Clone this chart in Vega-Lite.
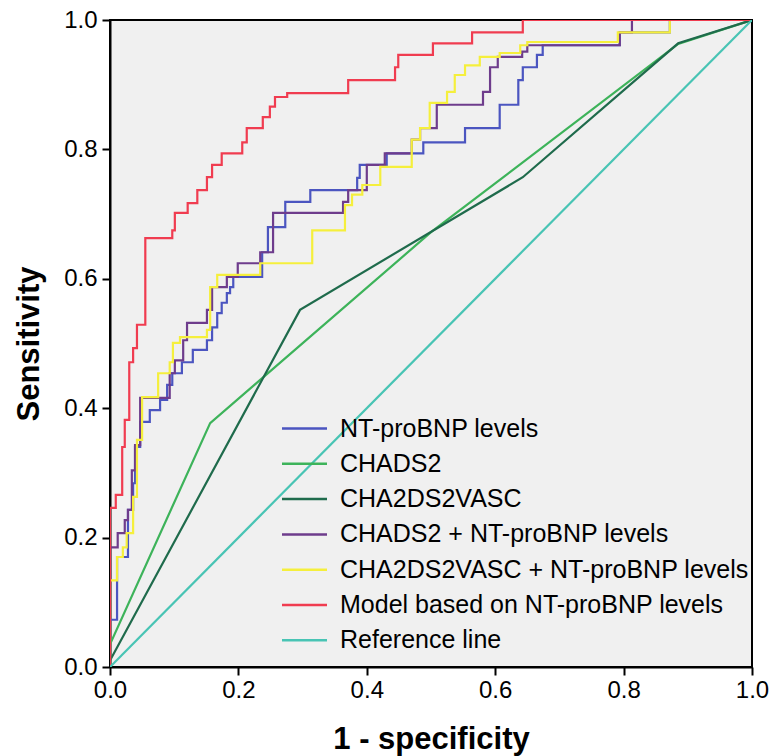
{
 "$schema": "https://vega.github.io/schema/vega-lite/v6.json",
 "width": 642, "height": 647,
 "autosize": {"type": "none"},
 "padding": {"left": 110, "top": 20, "right": 20, "bottom": 89},
 "background": "white",
 "config": {
  "font": "Liberation Sans",
  "view": {"fill": "#f0f0f0", "stroke": "#000000", "strokeWidth": 2},
  "axis": {"grid": false, "tickSize": 8, "tickWidth": 2, "tickColor": "#000000", "domainColor": "#000000", "domainWidth": 2, "labelFontSize": 24, "labelColor": "#000000", "labelFont": "Liberation Sans", "titleFont": "Liberation Sans", "titleFontSize": 31, "titleFontWeight": "bold", "titleColor": "#000000", "labelFlush": false, "labelOverlap": false}
 },
 "data": {"values": [
  {"s":"NT-proBNP levels","i":0,"x":0,"y":0},
  {"s":"NT-proBNP levels","i":1,"x":0,"y":0.073},
  {"s":"NT-proBNP levels","i":2,"x":0.011,"y":0.073},
  {"s":"NT-proBNP levels","i":3,"x":0.011,"y":0.170},
  {"s":"NT-proBNP levels","i":4,"x":0.028,"y":0.170},
  {"s":"NT-proBNP levels","i":5,"x":0.028,"y":0.243},
  {"s":"NT-proBNP levels","i":6,"x":0.036,"y":0.243},
  {"s":"NT-proBNP levels","i":7,"x":0.036,"y":0.284},
  {"s":"NT-proBNP levels","i":8,"x":0.039,"y":0.284},
  {"s":"NT-proBNP levels","i":9,"x":0.039,"y":0.340},
  {"s":"NT-proBNP levels","i":10,"x":0.047,"y":0.340},
  {"s":"NT-proBNP levels","i":11,"x":0.047,"y":0.379},
  {"s":"NT-proBNP levels","i":12,"x":0.062,"y":0.379},
  {"s":"NT-proBNP levels","i":13,"x":0.062,"y":0.397},
  {"s":"NT-proBNP levels","i":14,"x":0.078,"y":0.397},
  {"s":"NT-proBNP levels","i":15,"x":0.078,"y":0.413},
  {"s":"NT-proBNP levels","i":16,"x":0.089,"y":0.413},
  {"s":"NT-proBNP levels","i":17,"x":0.089,"y":0.436},
  {"s":"NT-proBNP levels","i":18,"x":0.097,"y":0.436},
  {"s":"NT-proBNP levels","i":19,"x":0.097,"y":0.454},
  {"s":"NT-proBNP levels","i":20,"x":0.112,"y":0.454},
  {"s":"NT-proBNP levels","i":21,"x":0.112,"y":0.471},
  {"s":"NT-proBNP levels","i":22,"x":0.129,"y":0.471},
  {"s":"NT-proBNP levels","i":23,"x":0.129,"y":0.490},
  {"s":"NT-proBNP levels","i":24,"x":0.151,"y":0.490},
  {"s":"NT-proBNP levels","i":25,"x":0.151,"y":0.505},
  {"s":"NT-proBNP levels","i":26,"x":0.159,"y":0.505},
  {"s":"NT-proBNP levels","i":27,"x":0.159,"y":0.525},
  {"s":"NT-proBNP levels","i":28,"x":0.167,"y":0.525},
  {"s":"NT-proBNP levels","i":29,"x":0.167,"y":0.547},
  {"s":"NT-proBNP levels","i":30,"x":0.174,"y":0.547},
  {"s":"NT-proBNP levels","i":31,"x":0.174,"y":0.563},
  {"s":"NT-proBNP levels","i":32,"x":0.182,"y":0.563},
  {"s":"NT-proBNP levels","i":33,"x":0.182,"y":0.578},
  {"s":"NT-proBNP levels","i":34,"x":0.187,"y":0.578},
  {"s":"NT-proBNP levels","i":35,"x":0.187,"y":0.587},
  {"s":"NT-proBNP levels","i":36,"x":0.192,"y":0.587},
  {"s":"NT-proBNP levels","i":37,"x":0.192,"y":0.603},
  {"s":"NT-proBNP levels","i":38,"x":0.237,"y":0.603},
  {"s":"NT-proBNP levels","i":39,"x":0.237,"y":0.641},
  {"s":"NT-proBNP levels","i":40,"x":0.246,"y":0.641},
  {"s":"NT-proBNP levels","i":41,"x":0.246,"y":0.680},
  {"s":"NT-proBNP levels","i":42,"x":0.273,"y":0.680},
  {"s":"NT-proBNP levels","i":43,"x":0.273,"y":0.719},
  {"s":"NT-proBNP levels","i":44,"x":0.312,"y":0.719},
  {"s":"NT-proBNP levels","i":45,"x":0.312,"y":0.737},
  {"s":"NT-proBNP levels","i":46,"x":0.385,"y":0.737},
  {"s":"NT-proBNP levels","i":47,"x":0.385,"y":0.756},
  {"s":"NT-proBNP levels","i":48,"x":0.389,"y":0.756},
  {"s":"NT-proBNP levels","i":49,"x":0.389,"y":0.776},
  {"s":"NT-proBNP levels","i":50,"x":0.431,"y":0.776},
  {"s":"NT-proBNP levels","i":51,"x":0.431,"y":0.794},
  {"s":"NT-proBNP levels","i":52,"x":0.488,"y":0.794},
  {"s":"NT-proBNP levels","i":53,"x":0.488,"y":0.811},
  {"s":"NT-proBNP levels","i":54,"x":0.553,"y":0.811},
  {"s":"NT-proBNP levels","i":55,"x":0.553,"y":0.833},
  {"s":"NT-proBNP levels","i":56,"x":0.607,"y":0.833},
  {"s":"NT-proBNP levels","i":57,"x":0.607,"y":0.869},
  {"s":"NT-proBNP levels","i":58,"x":0.636,"y":0.869},
  {"s":"NT-proBNP levels","i":59,"x":0.636,"y":0.907},
  {"s":"NT-proBNP levels","i":60,"x":0.643,"y":0.907},
  {"s":"NT-proBNP levels","i":61,"x":0.643,"y":0.927},
  {"s":"NT-proBNP levels","i":62,"x":0.665,"y":0.927},
  {"s":"NT-proBNP levels","i":63,"x":0.665,"y":0.946},
  {"s":"NT-proBNP levels","i":64,"x":0.674,"y":0.946},
  {"s":"NT-proBNP levels","i":65,"x":0.674,"y":0.961},
  {"s":"NT-proBNP levels","i":66,"x":0.794,"y":0.961},
  {"s":"NT-proBNP levels","i":67,"x":0.794,"y":0.981},
  {"s":"NT-proBNP levels","i":68,"x":0.872,"y":0.981},
  {"s":"NT-proBNP levels","i":69,"x":0.872,"y":1},
  {"s":"NT-proBNP levels","i":70,"x":1,"y":1},

  {"s":"CHADS2","i":0,"x":0,"y":0},
  {"s":"CHADS2","i":1,"x":0,"y":0.035},
  {"s":"CHADS2","i":2,"x":0.156,"y":0.377},
  {"s":"CHADS2","i":3,"x":0.50,"y":0.672},
  {"s":"CHADS2","i":4,"x":0.885,"y":0.963},
  {"s":"CHADS2","i":5,"x":1,"y":1},

  {"s":"CHA2DS2VASC","i":0,"x":0,"y":0},
  {"s":"CHA2DS2VASC","i":1,"x":0,"y":0.01},
  {"s":"CHA2DS2VASC","i":2,"x":0.296,"y":0.552},
  {"s":"CHA2DS2VASC","i":3,"x":0.643,"y":0.757},
  {"s":"CHA2DS2VASC","i":4,"x":0.885,"y":0.964},
  {"s":"CHA2DS2VASC","i":5,"x":1,"y":1},

  {"s":"CHADS2 + NT-proBNP levels","i":0,"x":0,"y":0},
  {"s":"CHADS2 + NT-proBNP levels","i":1,"x":0,"y":0.185},
  {"s":"CHADS2 + NT-proBNP levels","i":2,"x":0.012,"y":0.185},
  {"s":"CHADS2 + NT-proBNP levels","i":3,"x":0.012,"y":0.207},
  {"s":"CHADS2 + NT-proBNP levels","i":4,"x":0.023,"y":0.207},
  {"s":"CHADS2 + NT-proBNP levels","i":5,"x":0.023,"y":0.227},
  {"s":"CHADS2 + NT-proBNP levels","i":6,"x":0.028,"y":0.227},
  {"s":"CHADS2 + NT-proBNP levels","i":7,"x":0.028,"y":0.243},
  {"s":"CHADS2 + NT-proBNP levels","i":8,"x":0.034,"y":0.243},
  {"s":"CHADS2 + NT-proBNP levels","i":9,"x":0.034,"y":0.304},
  {"s":"CHADS2 + NT-proBNP levels","i":10,"x":0.039,"y":0.304},
  {"s":"CHADS2 + NT-proBNP levels","i":11,"x":0.039,"y":0.343},
  {"s":"CHADS2 + NT-proBNP levels","i":12,"x":0.047,"y":0.343},
  {"s":"CHADS2 + NT-proBNP levels","i":13,"x":0.047,"y":0.416},
  {"s":"CHADS2 + NT-proBNP levels","i":14,"x":0.093,"y":0.416},
  {"s":"CHADS2 + NT-proBNP levels","i":15,"x":0.093,"y":0.454},
  {"s":"CHADS2 + NT-proBNP levels","i":16,"x":0.101,"y":0.454},
  {"s":"CHADS2 + NT-proBNP levels","i":17,"x":0.101,"y":0.474},
  {"s":"CHADS2 + NT-proBNP levels","i":18,"x":0.114,"y":0.474},
  {"s":"CHADS2 + NT-proBNP levels","i":19,"x":0.114,"y":0.505},
  {"s":"CHADS2 + NT-proBNP levels","i":20,"x":0.120,"y":0.505},
  {"s":"CHADS2 + NT-proBNP levels","i":21,"x":0.120,"y":0.532},
  {"s":"CHADS2 + NT-proBNP levels","i":22,"x":0.151,"y":0.532},
  {"s":"CHADS2 + NT-proBNP levels","i":23,"x":0.151,"y":0.552},
  {"s":"CHADS2 + NT-proBNP levels","i":24,"x":0.159,"y":0.552},
  {"s":"CHADS2 + NT-proBNP levels","i":25,"x":0.159,"y":0.587},
  {"s":"CHADS2 + NT-proBNP levels","i":26,"x":0.182,"y":0.587},
  {"s":"CHADS2 + NT-proBNP levels","i":27,"x":0.182,"y":0.603},
  {"s":"CHADS2 + NT-proBNP levels","i":28,"x":0.199,"y":0.603},
  {"s":"CHADS2 + NT-proBNP levels","i":29,"x":0.199,"y":0.624},
  {"s":"CHADS2 + NT-proBNP levels","i":30,"x":0.234,"y":0.624},
  {"s":"CHADS2 + NT-proBNP levels","i":31,"x":0.234,"y":0.641},
  {"s":"CHADS2 + NT-proBNP levels","i":32,"x":0.254,"y":0.641},
  {"s":"CHADS2 + NT-proBNP levels","i":33,"x":0.254,"y":0.702},
  {"s":"CHADS2 + NT-proBNP levels","i":34,"x":0.363,"y":0.702},
  {"s":"CHADS2 + NT-proBNP levels","i":35,"x":0.363,"y":0.719},
  {"s":"CHADS2 + NT-proBNP levels","i":36,"x":0.371,"y":0.719},
  {"s":"CHADS2 + NT-proBNP levels","i":37,"x":0.371,"y":0.737},
  {"s":"CHADS2 + NT-proBNP levels","i":38,"x":0.400,"y":0.737},
  {"s":"CHADS2 + NT-proBNP levels","i":39,"x":0.400,"y":0.776},
  {"s":"CHADS2 + NT-proBNP levels","i":40,"x":0.428,"y":0.776},
  {"s":"CHADS2 + NT-proBNP levels","i":41,"x":0.428,"y":0.794},
  {"s":"CHADS2 + NT-proBNP levels","i":42,"x":0.470,"y":0.794},
  {"s":"CHADS2 + NT-proBNP levels","i":43,"x":0.470,"y":0.815},
  {"s":"CHADS2 + NT-proBNP levels","i":44,"x":0.483,"y":0.815},
  {"s":"CHADS2 + NT-proBNP levels","i":45,"x":0.483,"y":0.833},
  {"s":"CHADS2 + NT-proBNP levels","i":46,"x":0.509,"y":0.833},
  {"s":"CHADS2 + NT-proBNP levels","i":47,"x":0.509,"y":0.869},
  {"s":"CHADS2 + NT-proBNP levels","i":48,"x":0.581,"y":0.869},
  {"s":"CHADS2 + NT-proBNP levels","i":49,"x":0.581,"y":0.889},
  {"s":"CHADS2 + NT-proBNP levels","i":50,"x":0.592,"y":0.889},
  {"s":"CHADS2 + NT-proBNP levels","i":51,"x":0.592,"y":0.927},
  {"s":"CHADS2 + NT-proBNP levels","i":52,"x":0.604,"y":0.927},
  {"s":"CHADS2 + NT-proBNP levels","i":53,"x":0.604,"y":0.943},
  {"s":"CHADS2 + NT-proBNP levels","i":54,"x":0.642,"y":0.943},
  {"s":"CHADS2 + NT-proBNP levels","i":55,"x":0.642,"y":0.951},
  {"s":"CHADS2 + NT-proBNP levels","i":56,"x":0.650,"y":0.951},
  {"s":"CHADS2 + NT-proBNP levels","i":57,"x":0.650,"y":0.961},
  {"s":"CHADS2 + NT-proBNP levels","i":58,"x":0.794,"y":0.961},
  {"s":"CHADS2 + NT-proBNP levels","i":59,"x":0.794,"y":0.981},
  {"s":"CHADS2 + NT-proBNP levels","i":60,"x":0.813,"y":0.981},
  {"s":"CHADS2 + NT-proBNP levels","i":61,"x":0.813,"y":1},
  {"s":"CHADS2 + NT-proBNP levels","i":62,"x":1,"y":1},

  {"s":"CHA2DS2VASC + NT-proBNP levels","i":0,"x":0,"y":0},
  {"s":"CHA2DS2VASC + NT-proBNP levels","i":1,"x":0,"y":0.134},
  {"s":"CHA2DS2VASC + NT-proBNP levels","i":2,"x":0.011,"y":0.134},
  {"s":"CHA2DS2VASC + NT-proBNP levels","i":3,"x":0.011,"y":0.170},
  {"s":"CHA2DS2VASC + NT-proBNP levels","i":4,"x":0.020,"y":0.170},
  {"s":"CHA2DS2VASC + NT-proBNP levels","i":5,"x":0.020,"y":0.185},
  {"s":"CHA2DS2VASC + NT-proBNP levels","i":6,"x":0.026,"y":0.185},
  {"s":"CHA2DS2VASC + NT-proBNP levels","i":7,"x":0.026,"y":0.207},
  {"s":"CHA2DS2VASC + NT-proBNP levels","i":8,"x":0.036,"y":0.207},
  {"s":"CHA2DS2VASC + NT-proBNP levels","i":9,"x":0.036,"y":0.263},
  {"s":"CHA2DS2VASC + NT-proBNP levels","i":10,"x":0.042,"y":0.263},
  {"s":"CHA2DS2VASC + NT-proBNP levels","i":11,"x":0.042,"y":0.351},
  {"s":"CHA2DS2VASC + NT-proBNP levels","i":12,"x":0.050,"y":0.351},
  {"s":"CHA2DS2VASC + NT-proBNP levels","i":13,"x":0.050,"y":0.417},
  {"s":"CHA2DS2VASC + NT-proBNP levels","i":14,"x":0.075,"y":0.417},
  {"s":"CHA2DS2VASC + NT-proBNP levels","i":15,"x":0.075,"y":0.454},
  {"s":"CHA2DS2VASC + NT-proBNP levels","i":16,"x":0.093,"y":0.454},
  {"s":"CHA2DS2VASC + NT-proBNP levels","i":17,"x":0.093,"y":0.471},
  {"s":"CHA2DS2VASC + NT-proBNP levels","i":18,"x":0.098,"y":0.471},
  {"s":"CHA2DS2VASC + NT-proBNP levels","i":19,"x":0.098,"y":0.501},
  {"s":"CHA2DS2VASC + NT-proBNP levels","i":20,"x":0.109,"y":0.501},
  {"s":"CHA2DS2VASC + NT-proBNP levels","i":21,"x":0.109,"y":0.510},
  {"s":"CHA2DS2VASC + NT-proBNP levels","i":22,"x":0.151,"y":0.510},
  {"s":"CHA2DS2VASC + NT-proBNP levels","i":23,"x":0.151,"y":0.521},
  {"s":"CHA2DS2VASC + NT-proBNP levels","i":24,"x":0.156,"y":0.521},
  {"s":"CHA2DS2VASC + NT-proBNP levels","i":25,"x":0.156,"y":0.587},
  {"s":"CHA2DS2VASC + NT-proBNP levels","i":26,"x":0.167,"y":0.587},
  {"s":"CHA2DS2VASC + NT-proBNP levels","i":27,"x":0.167,"y":0.606},
  {"s":"CHA2DS2VASC + NT-proBNP levels","i":28,"x":0.234,"y":0.606},
  {"s":"CHA2DS2VASC + NT-proBNP levels","i":29,"x":0.234,"y":0.624},
  {"s":"CHA2DS2VASC + NT-proBNP levels","i":30,"x":0.315,"y":0.624},
  {"s":"CHA2DS2VASC + NT-proBNP levels","i":31,"x":0.315,"y":0.675},
  {"s":"CHA2DS2VASC + NT-proBNP levels","i":32,"x":0.366,"y":0.675},
  {"s":"CHA2DS2VASC + NT-proBNP levels","i":33,"x":0.366,"y":0.714},
  {"s":"CHA2DS2VASC + NT-proBNP levels","i":34,"x":0.377,"y":0.714},
  {"s":"CHA2DS2VASC + NT-proBNP levels","i":35,"x":0.377,"y":0.730},
  {"s":"CHA2DS2VASC + NT-proBNP levels","i":36,"x":0.393,"y":0.730},
  {"s":"CHA2DS2VASC + NT-proBNP levels","i":37,"x":0.393,"y":0.745},
  {"s":"CHA2DS2VASC + NT-proBNP levels","i":38,"x":0.421,"y":0.745},
  {"s":"CHA2DS2VASC + NT-proBNP levels","i":39,"x":0.421,"y":0.773},
  {"s":"CHA2DS2VASC + NT-proBNP levels","i":40,"x":0.470,"y":0.773},
  {"s":"CHA2DS2VASC + NT-proBNP levels","i":41,"x":0.470,"y":0.815},
  {"s":"CHA2DS2VASC + NT-proBNP levels","i":42,"x":0.483,"y":0.815},
  {"s":"CHA2DS2VASC + NT-proBNP levels","i":43,"x":0.483,"y":0.833},
  {"s":"CHA2DS2VASC + NT-proBNP levels","i":44,"x":0.498,"y":0.833},
  {"s":"CHA2DS2VASC + NT-proBNP levels","i":45,"x":0.498,"y":0.872},
  {"s":"CHA2DS2VASC + NT-proBNP levels","i":46,"x":0.525,"y":0.872},
  {"s":"CHA2DS2VASC + NT-proBNP levels","i":47,"x":0.525,"y":0.889},
  {"s":"CHA2DS2VASC + NT-proBNP levels","i":48,"x":0.537,"y":0.889},
  {"s":"CHA2DS2VASC + NT-proBNP levels","i":49,"x":0.537,"y":0.915},
  {"s":"CHA2DS2VASC + NT-proBNP levels","i":50,"x":0.553,"y":0.915},
  {"s":"CHA2DS2VASC + NT-proBNP levels","i":51,"x":0.553,"y":0.930},
  {"s":"CHA2DS2VASC + NT-proBNP levels","i":52,"x":0.576,"y":0.930},
  {"s":"CHA2DS2VASC + NT-proBNP levels","i":53,"x":0.576,"y":0.943},
  {"s":"CHA2DS2VASC + NT-proBNP levels","i":54,"x":0.607,"y":0.943},
  {"s":"CHA2DS2VASC + NT-proBNP levels","i":55,"x":0.607,"y":0.949},
  {"s":"CHA2DS2VASC + NT-proBNP levels","i":56,"x":0.639,"y":0.949},
  {"s":"CHA2DS2VASC + NT-proBNP levels","i":57,"x":0.639,"y":0.961},
  {"s":"CHA2DS2VASC + NT-proBNP levels","i":58,"x":0.650,"y":0.961},
  {"s":"CHA2DS2VASC + NT-proBNP levels","i":59,"x":0.650,"y":0.966},
  {"s":"CHA2DS2VASC + NT-proBNP levels","i":60,"x":0.791,"y":0.966},
  {"s":"CHA2DS2VASC + NT-proBNP levels","i":61,"x":0.791,"y":0.981},
  {"s":"CHA2DS2VASC + NT-proBNP levels","i":62,"x":0.872,"y":0.981},
  {"s":"CHA2DS2VASC + NT-proBNP levels","i":63,"x":0.872,"y":1},
  {"s":"CHA2DS2VASC + NT-proBNP levels","i":64,"x":1,"y":1},

  {"s":"Model based on NT-proBNP levels","i":0,"x":0,"y":0},
  {"s":"Model based on NT-proBNP levels","i":1,"x":0,"y":0.246},
  {"s":"Model based on NT-proBNP levels","i":2,"x":0.009,"y":0.246},
  {"s":"Model based on NT-proBNP levels","i":3,"x":0.009,"y":0.266},
  {"s":"Model based on NT-proBNP levels","i":4,"x":0.019,"y":0.266},
  {"s":"Model based on NT-proBNP levels","i":5,"x":0.019,"y":0.340},
  {"s":"Model based on NT-proBNP levels","i":6,"x":0.023,"y":0.340},
  {"s":"Model based on NT-proBNP levels","i":7,"x":0.023,"y":0.382},
  {"s":"Model based on NT-proBNP levels","i":8,"x":0.030,"y":0.382},
  {"s":"Model based on NT-proBNP levels","i":9,"x":0.030,"y":0.471},
  {"s":"Model based on NT-proBNP levels","i":10,"x":0.036,"y":0.471},
  {"s":"Model based on NT-proBNP levels","i":11,"x":0.036,"y":0.493},
  {"s":"Model based on NT-proBNP levels","i":12,"x":0.042,"y":0.493},
  {"s":"Model based on NT-proBNP levels","i":13,"x":0.042,"y":0.529},
  {"s":"Model based on NT-proBNP levels","i":14,"x":0.055,"y":0.529},
  {"s":"Model based on NT-proBNP levels","i":15,"x":0.055,"y":0.663},
  {"s":"Model based on NT-proBNP levels","i":16,"x":0.097,"y":0.663},
  {"s":"Model based on NT-proBNP levels","i":17,"x":0.097,"y":0.675},
  {"s":"Model based on NT-proBNP levels","i":18,"x":0.101,"y":0.675},
  {"s":"Model based on NT-proBNP levels","i":19,"x":0.101,"y":0.702},
  {"s":"Model based on NT-proBNP levels","i":20,"x":0.121,"y":0.702},
  {"s":"Model based on NT-proBNP levels","i":21,"x":0.121,"y":0.717},
  {"s":"Model based on NT-proBNP levels","i":22,"x":0.136,"y":0.717},
  {"s":"Model based on NT-proBNP levels","i":23,"x":0.136,"y":0.737},
  {"s":"Model based on NT-proBNP levels","i":24,"x":0.151,"y":0.737},
  {"s":"Model based on NT-proBNP levels","i":25,"x":0.151,"y":0.757},
  {"s":"Model based on NT-proBNP levels","i":26,"x":0.159,"y":0.757},
  {"s":"Model based on NT-proBNP levels","i":27,"x":0.159,"y":0.776},
  {"s":"Model based on NT-proBNP levels","i":28,"x":0.174,"y":0.776},
  {"s":"Model based on NT-proBNP levels","i":29,"x":0.174,"y":0.794},
  {"s":"Model based on NT-proBNP levels","i":30,"x":0.206,"y":0.794},
  {"s":"Model based on NT-proBNP levels","i":31,"x":0.206,"y":0.811},
  {"s":"Model based on NT-proBNP levels","i":32,"x":0.213,"y":0.811},
  {"s":"Model based on NT-proBNP levels","i":33,"x":0.213,"y":0.833},
  {"s":"Model based on NT-proBNP levels","i":34,"x":0.238,"y":0.833},
  {"s":"Model based on NT-proBNP levels","i":35,"x":0.238,"y":0.850},
  {"s":"Model based on NT-proBNP levels","i":36,"x":0.249,"y":0.850},
  {"s":"Model based on NT-proBNP levels","i":37,"x":0.249,"y":0.866},
  {"s":"Model based on NT-proBNP levels","i":38,"x":0.257,"y":0.866},
  {"s":"Model based on NT-proBNP levels","i":39,"x":0.257,"y":0.881},
  {"s":"Model based on NT-proBNP levels","i":40,"x":0.276,"y":0.881},
  {"s":"Model based on NT-proBNP levels","i":41,"x":0.276,"y":0.887},
  {"s":"Model based on NT-proBNP levels","i":42,"x":0.371,"y":0.887},
  {"s":"Model based on NT-proBNP levels","i":43,"x":0.371,"y":0.907},
  {"s":"Model based on NT-proBNP levels","i":44,"x":0.444,"y":0.907},
  {"s":"Model based on NT-proBNP levels","i":45,"x":0.444,"y":0.927},
  {"s":"Model based on NT-proBNP levels","i":46,"x":0.449,"y":0.927},
  {"s":"Model based on NT-proBNP levels","i":47,"x":0.449,"y":0.946},
  {"s":"Model based on NT-proBNP levels","i":48,"x":0.503,"y":0.946},
  {"s":"Model based on NT-proBNP levels","i":49,"x":0.503,"y":0.964},
  {"s":"Model based on NT-proBNP levels","i":50,"x":0.564,"y":0.964},
  {"s":"Model based on NT-proBNP levels","i":51,"x":0.564,"y":0.981},
  {"s":"Model based on NT-proBNP levels","i":52,"x":0.643,"y":0.981},
  {"s":"Model based on NT-proBNP levels","i":53,"x":0.643,"y":1},
  {"s":"Model based on NT-proBNP levels","i":54,"x":1,"y":1},

  {"s":"Reference line","i":0,"x":0,"y":0},
  {"s":"Reference line","i":1,"x":1,"y":1}
 ]},
 "mark": {"type": "line", "strokeWidth": 2.2, "interpolate": "linear", "clip": true},
 "encoding": {
  "x": {"field": "x", "type": "quantitative", "scale": {"domain": [0, 1], "nice": false, "zero": false},
        "axis": {"values": [0, 0.2, 0.4, 0.6, 0.8, 1], "format": ".1f", "title": "1 - specificity", "labelPadding": 3, "titlePadding": 22}},
  "y": {"field": "y", "type": "quantitative", "scale": {"domain": [0, 1], "nice": false, "zero": false},
        "axis": {"values": [0, 0.2, 0.4, 0.6, 0.8, 1], "format": ".1f", "title": "Sensitivity", "labelPadding": 5, "titlePadding": 18}},
  "color": {"field": "s", "type": "nominal",
   "scale": {"domain": ["NT-proBNP levels", "CHADS2", "CHA2DS2VASC", "CHADS2 + NT-proBNP levels", "CHA2DS2VASC + NT-proBNP levels", "Model based on NT-proBNP levels", "Reference line"],
             "range": ["#4b55c0", "#3db35a", "#1f6b4c", "#6e3c8c", "#f5ef3c", "#f03c50", "#48c4b4"]},
   "legend": {"orient": "none", "legendX": 182, "legendY": 396, "title": null, "symbolType": "M-3,0H3", "symbolSize": 225, "symbolStrokeWidth": 2.5, "labelFontSize": 25, "labelOffset": 23, "rowPadding": 9.3, "padding": 0, "labelColor": "#000000", "labelLimit": 0, "labelFont": "Liberation Sans"}},
  "order": {"field": "i", "type": "quantitative"}
 }
}
